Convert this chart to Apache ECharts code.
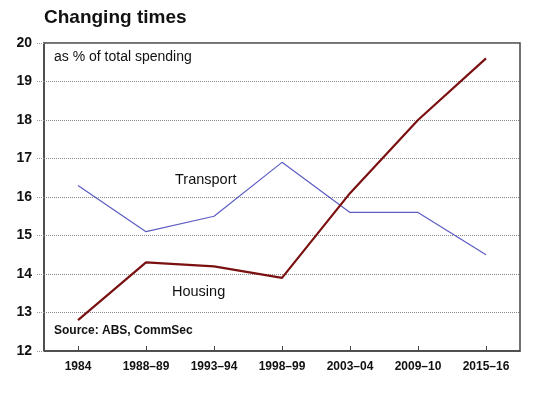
<!DOCTYPE html>
<html lang="en">
<head>
    <meta charset="utf-8">
    <title>Changing times</title>
    <script src="https://cdn.jsdelivr.net/npm/echarts@6/dist/echarts.min.js"></script>
    <style>
        html, body { margin: 0; padding: 0; background: #fff; }
        #chart { width: 537px; height: 398px; }
    </style>
</head>
<body>
    <div id="chart"></div>
    <script>
        // data
        var years = ['1984', '1988–89', '1993–94', '1998–99', '2003–04', '2009–10', '2015–16'];
        var transport = [16.3, 15.1, 15.5, 16.9, 15.6, 15.6, 14.5];
        var housing = [12.8, 14.3, 14.2, 13.9, 16.1, 18.0, 19.6];

        var chart = echarts.init(document.getElementById('chart'));

        var font = 'Arial, "Liberation Sans", sans-serif';

        var option = {
            animation: false,
            textStyle: { fontFamily: font },
            grid: { left: 44, right: 17, top: 43, bottom: 47, show: true, borderColor: '#444', borderWidth: 1.5 },
            graphic: [
                { type: 'text', left: 44, top: 8, style: { text: 'Changing times', font: 'bold 19px ' + font, fill: '#111' } },
                { type: 'text', left: 54, top: 50, style: { text: 'as % of total spending', font: '14px ' + font, fill: '#111' } },
                { type: 'text', left: 54, top: 325, style: { text: 'Source: ABS, CommSec', font: 'bold 12px ' + font, fill: '#111' } },
                { type: 'text', left: 175, top: 172, style: { text: 'Transport', font: '14.5px ' + font, fill: '#111' } },
                { type: 'text', left: 172, top: 284, style: { text: 'Housing', font: '14.5px ' + font, fill: '#111' } }
            ],
            xAxis: {
                type: 'category',
                data: years,
                boundaryGap: true,
                axisLine: { show: true, lineStyle: { color: '#444', width: 1.5 } },
                axisTick: { show: true, inside: true, alignWithLabel: true, length: 5, lineStyle: { color: '#444' } },
                axisLabel: { color: '#111', fontWeight: 'bold', fontSize: 12, margin: 10 },
                splitLine: { show: false }
            },
            yAxis: {
                type: 'value',
                min: 12,
                max: 20,
                interval: 1,
                axisLine: { show: true, lineStyle: { color: '#444', width: 1.5 } },
                axisTick: { show: true, length: 7, lineStyle: { color: '#999', type: 'dotted' } },
                axisLabel: { color: '#111', fontWeight: 'bold', fontSize: 14, margin: 12 },
                splitLine: { show: true, lineStyle: { color: '#888', type: 'dotted', width: 1 } }
            },
            series: [
                {
                    name: 'Transport',
                    type: 'line',
                    data: transport,
                    symbol: 'none',
                    lineStyle: { color: '#5c5cc4', width: 1.2 },
                    itemStyle: { color: '#5c5cc4' }
                },
                {
                    name: 'Housing',
                    type: 'line',
                    data: housing,
                    symbol: 'none',
                    lineStyle: { color: '#7a1010', width: 2.2 },
                    itemStyle: { color: '#7a1010' }
                }
            ]
        };

        chart.setOption(option);
    </script>
</body>
</html>
